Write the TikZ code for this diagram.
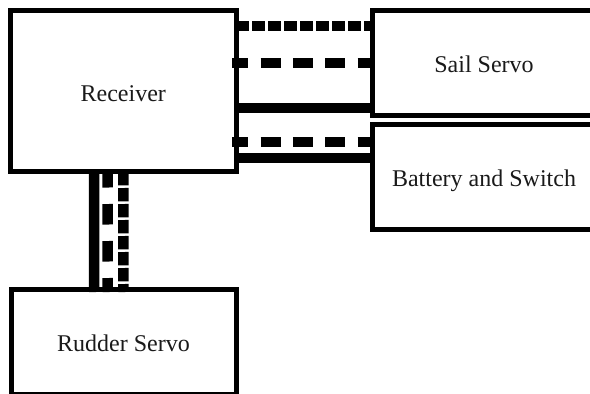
\documentclass[tikz,border=0pt]{standalone}
\usepackage{fontspec}
\setmainfont{Liberation Serif}
\usepackage{xcolor}
\definecolor{inkblk}{HTML}{1A1A1A}
\tikzset{
  box/.style  ={rectangle, draw=black, line width=5pt, outer sep=0pt, align=center,
                text=inkblk, text height=18.5pt, text depth=0pt,
                font=\fontsize{24}{28}\selectfont},
  wire/.style ={draw=black, line width=10.5pt},
  dashw/.style={wire, dash pattern=on 20pt off 12.3pt, dash phase=3.7pt},
  dashv/.style={wire, dash pattern=on 20.5pt off 16.5pt, dash phase=4pt},
  dotw/.style ={wire, dash pattern=on 13.3pt off 2.7pt},
}
\begin{document}
\begin{tikzpicture}[x=1pt,y=-1pt]
\useasboundingbox (0,0) rectangle (590,394);

\node[box, text height=22pt, minimum width=225.5pt, minimum height=160.5pt] (recv) at (123.25,90.75) {Receiver};
\node[box, minimum width=224pt, minimum height=104.5pt] (sail) at (484,62.75) {Sail Servo};
\node[box, minimum width=224pt, minimum height=104.5pt] (batt) at (484,176.75) {Battery and Switch};
\node[box, text height=20pt, minimum width=225pt, minimum height=104.5pt] (rudd) at (123.5,341.75) {Rudder Servo};

% receiver to sail servo
\draw[dotw]  ([yshift=-15.5pt]recv.north east) -- ([yshift=-15.5pt]sail.north west);
\draw[dashw] ([yshift=-52.5pt,xshift=-4pt]recv.north east) -- ([yshift=-52.5pt]sail.north west);
\draw[wire]  ([yshift=-97.5pt]recv.north east) -- ([yshift=-97.5pt]sail.north west);

% receiver to battery
\draw[dashw] ([yshift=29pt,xshift=-4pt]recv.south east) -- ([yshift=-17.5pt]batt.north west);
\draw[wire]  ([yshift=13pt]recv.south east) -- ([yshift=-33.5pt]batt.north west);

% receiver to rudder servo
\draw[wire]  ([xshift=-29.25pt]recv.south) -- ([xshift=-29.25pt,yshift=-2.5pt]rudd.north);
\draw[dashv] ([xshift=-15.75pt]recv.south) -- ([xshift=-15.75pt,yshift=-2.5pt]rudd.north);
\draw[dotw]  ([yshift=-1pt]recv.south) -- ([yshift=-2.5pt]rudd.north);
\end{tikzpicture}
\end{document}
